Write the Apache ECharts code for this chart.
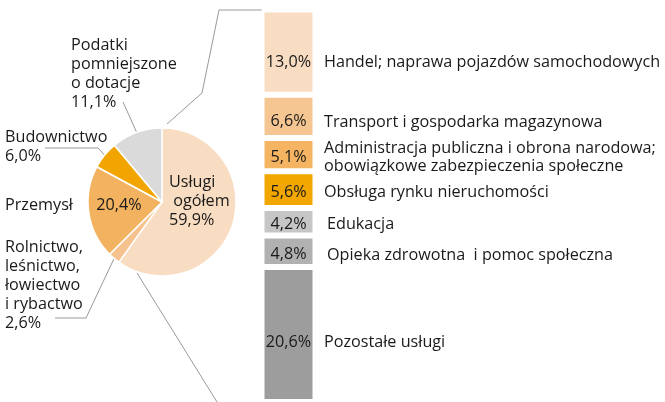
<!DOCTYPE html>
<html>
<head>
<meta charset="utf-8">
<script src="https://cdn.jsdelivr.net/npm/echarts@6/dist/echarts.min.js"></script>
<style>
  html, body { margin: 0; padding: 0; background: #fff; }
  #chart { width: 665px; height: 402px; }
</style>
</head>
<body>
<div id="chart"></div>
<script>
// Struktura wartości dodanej brutto
const pieNames = ['Usługi\n ogółem', 'Rolnictwo,\nleśnictwo,\nłowiectwo\ni rybactwo', 'Przemysł', 'Budownictwo', 'Podatki\npomniejszone\no dotacje'];
const pieValues = [59.9, 2.6, 20.4, 6.0, 11.1];
const pieColors = ['#F8DDC2', '#F6C38E', '#F3B25F', '#F2A500', '#DADADA'];

// Usługi – podział
const serviceNames = [
  'Handel; naprawa pojazdów samochodowych',
  'Transport i gospodarka magazynowa',
  'Administracja publiczna i obrona narodowa;\nobowiązkowe zabezpieczenia społeczne',
  'Obsługa rynku nieruchomości',
  'Edukacja',
  'Opieka zdrowotna  i pomoc społeczna',
  'Pozostałe usługi'
];
const serviceValues = [13.0, 6.6, 5.1, 5.6, 4.2, 4.8, 20.6];
const serviceColors = ['#F8DDC2', '#F6C692', '#F4B462', '#F2A600', '#C6C6C6', '#B1B1B1', '#9D9D9D'];

const FONT = '"Open Sans", sans-serif';
const FS = 16.2;
const TEXT = '#1a1a1a';
const LINE = '#999999';
const pct = v => v.toFixed(1).replace('.', ',') + '%';

const PIE_C = [162, 202];
const PIE_R = 74;

// label nudges for the service rows (px, downward)
const rowShift = [10, 5, 3, 3, 3, 3, 8];
const nameShift = [10, 6, 3, 3, 3, 4, 8];
const nameIndent = [0, 0, 0, 0, 3, 3, 0];

// outer label placement: left/top of the text block and leader path
const outerLabels = {
  4: { x: 71, y: 36, line: [[123, 102]] },
  3: { x: 5, y: 128, line: [[98, 148], [45, 148]] },
  2: { x: 5, y: 196, line: null },
  1: { x: 5, y: 238, line: [[86, 318], [55, 318]] }
};
const innerLabels = {
  0: { x: 169, y: 201, align: 'left' },
  2: { x: 119, y: 205, align: 'center' }
};

const pieData = pieNames.map((n, i) => ({
  name: n,
  value: pieValues[i],
  itemStyle: { color: pieColors[i] },
  label: i === 0 ? { show: false } : undefined,
  labelLine: i === 0 || i === 2 ? { show: false } : undefined
}));

const chart = echarts.init(document.getElementById('chart'), null, { renderer: 'canvas' });

const barSeries = serviceNames.map((name, i) => ({
  type: 'bar',
  stack: 'uslugi',
  barWidth: '100%',
  animation: false,
  itemStyle: { borderColor: '#fff', borderWidth: 3 },
  label: {
    show: true, position: 'inside', offset: [0, rowShift[i]],
    fontFamily: FONT, fontSize: FS, color: TEXT,
    formatter: () => pct(serviceValues[i])
  },
  data: [
    { value: serviceValues[i], itemStyle: { color: serviceColors[i] } },
    {
      value: serviceValues[i],
      itemStyle: { color: 'rgba(0,0,0,0)', borderWidth: 0 },
      label: {
        show: true, position: 'insideLeft', distance: 8.5,
        offset: [nameIndent[i], nameShift[i]],
        fontFamily: FONT, fontSize: FS, color: TEXT, lineHeight: 18,
        formatter: () => name
      }
    }
  ]
}));

chart.setOption({
  animation: false,
  backgroundColor: '#fff',
  grid: { left: 261.5, top: 9.5, width: 108, height: 394.7 },
  xAxis: { type: 'category', data: ['udział', 'opis'], show: false },
  yAxis: { type: 'value', inverse: true, min: 0, max: 59.9, show: false },
  series: [
    {
      type: 'pie',
      center: PIE_C,
      radius: PIE_R,
      startAngle: 90,
      clockwise: true,
      animation: false,
      itemStyle: { borderColor: '#fff', borderWidth: 1.5 },
      label: {
        show: true, overflow: 'none',
        fontFamily: FONT, fontSize: FS, color: TEXT, lineHeight: 19,
        formatter: p => p.dataIndex === 2 ? p.name : p.name + '\n' + pct(p.value)
      },
      labelLine: { show: true, length: 5, length2: 5, lineStyle: { color: LINE, width: 1 } },
      labelLayout: p => {
        const o = outerLabels[p.dataIndex];
        if (!o) return {};
        const res = { x: o.x, y: o.y, align: 'left', verticalAlign: 'top' };
        if (o.line && p.labelLinePoints) {
          const pts = [p.labelLinePoints[0]].concat(o.line);
          if (pts.length < 3) pts.splice(1, 0, o.line[0]);
          res.labelLinePoints = pts;
        }
        return res;
      },
      data: pieData
    },
    {
      type: 'pie',
      center: PIE_C,
      radius: PIE_R,
      startAngle: 90,
      clockwise: true,
      silent: true,
      animation: false,
      itemStyle: { color: 'rgba(0,0,0,0)' },
      label: {
        show: true, position: 'inside', overflow: 'none',
        fontFamily: FONT, fontSize: FS, color: TEXT, lineHeight: 19,
        formatter: p => innerLabels[p.dataIndex] ? (p.dataIndex === 0 ? p.name + '\n' : '') + pct(p.value) : ''
      },
      labelLine: { show: false },
      labelLayout: p => {
        const o = innerLabels[p.dataIndex];
        return o ? { x: o.x, y: o.y, align: o.align, verticalAlign: 'middle' } : {};
      },
      data: pieValues.map((v, i) => ({ name: pieNames[i], value: v }))
    }
  ].concat(barSeries),
  graphic: [
    {
      type: 'polyline', silent: true,
      shape: { points: [[167, 124], [202, 93], [219, 10], [262, 10]] },
      style: { stroke: LINE, lineWidth: 1, fill: null }
    },
    {
      type: 'polyline', silent: true,
      shape: { points: [[137, 273], [217, 402]] },
      style: { stroke: LINE, lineWidth: 1, fill: null }
    }
  ]
});
</script>
</body>
</html>
